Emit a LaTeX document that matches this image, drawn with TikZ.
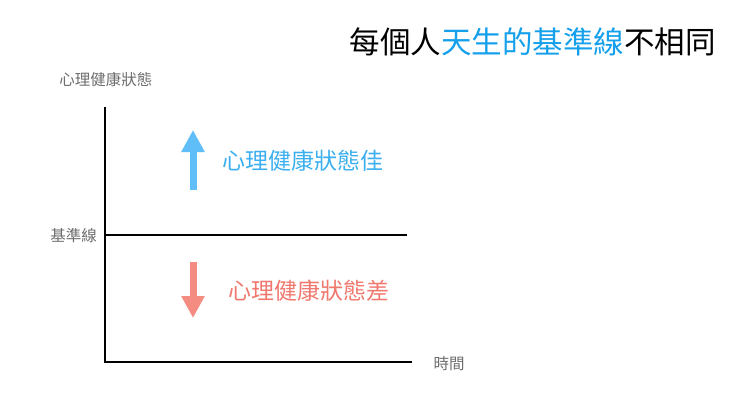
\documentclass[tikz,border=0pt]{standalone}
\usepackage{fontspec}
\setmainfont{Noto Sans CJK TC}
\usetikzlibrary{arrows.meta}
\definecolor{tblue}{RGB}{20,160,235}
\definecolor{ablue}{RGB}{95,190,248}
\definecolor{lblue}{RGB}{60,175,240}
\definecolor{apink}{RGB}{245,140,130}
\definecolor{lpink}{RGB}{240,120,110}
\definecolor{gtxt}{RGB}{110,110,110}
\tikzset{axis/.style={line width=2.5pt,black},
 small/.style={font=\fontsize{15.5}{18}\selectfont,text=gtxt,inner sep=0},
 big/.style={font=\fontsize{23}{27}\selectfont,inner sep=0,anchor=west}}
\begin{document}
\begin{tikzpicture}[x=1pt,y=-1pt]
\fill[white] (0,0) rectangle (740,416);
\node[anchor=east,inner sep=0,font=\fontsize{30.5}{34}\selectfont] (title) at (716,42) {每個人\textcolor{tblue}{天生的基準線}不相同};
\node[small] (ylab) at (106,80) {心理健康狀態};
\coordinate (top) at (105,107);
\coordinate (org) at (105,362);
\coordinate (xend) at (412,362);
\coordinate (b0) at (105,235);
\coordinate (b1) at (407,235);
\draw[axis] (top) -- (org) -- (xend);
\draw[axis] (b0) -- (b1);
\node[small,anchor=east] (blab) at (97,236) {基準線};
\node[small] (xlab) at (449,364) {時間};
\coordinate (u0) at (193,190); \coordinate (u1) at (193,130);
\draw[ablue,line width=7pt,-{Triangle[length=22pt,width=22pt]}] (u0) -- (u1);
\node[big,text=lblue] (good) at (222,161) {心理健康狀態佳};
\coordinate (d0) at (193,262); \coordinate (d1) at (193,318);
\draw[apink,line width=7pt,-{Triangle[length=22pt,width=22pt]}] (d0) -- (d1);
\node[big,text=lpink] (bad) at (228,291) {心理健康狀態差};
\end{tikzpicture}
\end{document}
